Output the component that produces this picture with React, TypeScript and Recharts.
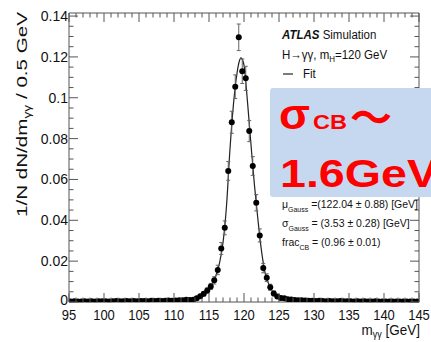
import React from "react"
import { ComposedChart, ErrorBar, Line, Scatter, XAxis, YAxis } from "recharts"

// m_yy bin centres (0.5 GeV bins)
const binCenters = [
  95.25, 95.75, 96.25, 96.75, 97.25, 97.75, 98.25, 98.75, 99.25, 99.75,
  100.25, 100.75, 101.25, 101.75, 102.25, 102.75, 103.25, 103.75, 104.25, 104.75,
  105.25, 105.75, 106.25, 106.75, 107.25, 107.75, 108.25, 108.75, 109.25, 109.75,
  110.25, 110.75, 111.25, 111.75, 112.25, 112.75, 113.25, 113.75, 114.25, 114.75,
  115.25, 115.75, 116.25, 116.75, 117.25, 117.75, 118.25, 118.75, 119.25, 119.75,
  120.25, 120.75, 121.25, 121.75, 122.25, 122.75, 123.25, 123.75, 124.25, 124.75,
  125.25, 125.75, 126.25, 126.75, 127.25, 127.75, 128.25, 128.75, 129.25, 129.75,
  130.25, 130.75, 131.25, 131.75, 132.25, 132.75, 133.25, 133.75, 134.25, 134.75,
  135.25, 135.75, 136.25, 136.75, 137.25, 137.75, 138.25, 138.75, 139.25, 139.75,
  140.25, 140.75, 141.25, 141.75, 142.25, 142.75, 143.25, 143.75, 144.25, 144.75,
]

// 1/N dN/dm
const binValues = [
  0.0003, 0.0004, 0.0003, 0.0003, 0.0004, 0.0003, 0.0004, 0.0003, 0.0004, 0.0004,
  0.0004, 0.0003, 0.0004, 0.0005, 0.0004, 0.0004, 0.0005, 0.0004, 0.0005, 0.0004,
  0.0005, 0.0005, 0.0004, 0.0006, 0.0005, 0.0006, 0.0005, 0.0006, 0.0007, 0.0006,
  0.0007, 0.0008, 0.0009, 0.0011, 0.001, 0.0011, 0.0018, 0.0028, 0.004, 0.0056,
  0.0076, 0.0106, 0.0157, 0.0262, 0.0363, 0.0642, 0.088, 0.1054, 0.1296, 0.113,
  0.1095, 0.0837, 0.0666, 0.0486, 0.0326, 0.0166, 0.0119, 0.0072, 0.0042, 0.0027,
  0.002, 0.0018, 0.0014, 0.0012, 0.001, 0.0008, 0.0009, 0.0007, 0.0006, 0.0006,
  0.0005, 0.0006, 0.0005, 0.0004, 0.0005, 0.0004, 0.0004, 0.0005, 0.0004, 0.0004,
  0.0004, 0.0003, 0.0004, 0.0003, 0.0004, 0.0003, 0.0003, 0.0004, 0.0003, 0.0003,
  0.0003, 0.0003, 0.0002, 0.0003, 0.0003, 0.0002, 0.0003, 0.0002, 0.0003, 0.0002,
]

const binErrors = [
  0.0003, 0.0003, 0.0003, 0.0003, 0.0003, 0.0003, 0.0003, 0.0003, 0.0003, 0.0003,
  0.0003, 0.0003, 0.0003, 0.0003, 0.0003, 0.0003, 0.0003, 0.0003, 0.0003, 0.0003,
  0.0003, 0.0003, 0.0003, 0.0003, 0.0003, 0.0003, 0.0003, 0.0003, 0.0004, 0.0004,
  0.0004, 0.0004, 0.0005, 0.0005, 0.0005, 0.0005, 0.0007, 0.0009, 0.0011, 0.0013,
  0.0015, 0.0018, 0.0023, 0.0029, 0.0034, 0.0046, 0.0054, 0.0058, 0.0065, 0.006,
  0.0059, 0.0052, 0.0046, 0.004, 0.0032, 0.0023, 0.0019, 0.0015, 0.0012, 0.0009,
  0.0008, 0.0007, 0.0006, 0.0006, 0.0005, 0.0005, 0.0005, 0.0004, 0.0004, 0.0004,
  0.0003, 0.0003, 0.0003, 0.0003, 0.0003, 0.0003, 0.0003, 0.0003, 0.0003, 0.0003,
  0.0003, 0.0003, 0.0003, 0.0003, 0.0003, 0.0003, 0.0003, 0.0003, 0.0003, 0.0003,
  0.0003, 0.0003, 0.0003, 0.0003, 0.0003, 0.0003, 0.0003, 0.0003, 0.0003, 0.0003,
]

// fit curve
const fitMass = [
  95, 100, 105, 108, 110, 111, 112, 112.5, 113, 113.5, 114, 114.5, 115, 115.5,
  116, 116.5, 117, 117.5, 118, 118.5, 119, 119.3, 119.55, 119.8, 120, 120.5,
  121, 121.5, 122, 122.5, 123, 123.5, 124, 124.5, 125, 126, 127, 128, 130, 135, 140, 145,
]
const fitValues = [
  0.0003, 0.0004, 0.0005, 0.0006, 0.0007, 0.0009, 0.0012, 0.0015, 0.0019, 0.0025, 0.0034, 0.0047, 0.0065, 0.0092,
  0.013, 0.019, 0.029, 0.047, 0.075, 0.097, 0.112, 0.1175, 0.1195, 0.1185, 0.116, 0.098,
  0.077, 0.057, 0.04, 0.025, 0.0145, 0.009, 0.0055, 0.0035, 0.0025, 0.0016, 0.0011, 0.0009, 0.0006, 0.0004, 0.0003, 0.0002,
]

const xMajorTicks = [95, 100, 105, 110, 115, 120, 125, 130, 135, 140, 145]
const xMinorTicks = [
  96, 97, 98, 99, 101, 102, 103, 104, 106, 107, 108, 109, 111, 112, 113, 114,
  116, 117, 118, 119, 121, 122, 123, 124, 126, 127, 128, 129, 131, 132, 133, 134,
  136, 137, 138, 139, 141, 142, 143, 144,
]
const yMajorTicks = [0, 0.02, 0.04, 0.06, 0.08, 0.1, 0.12, 0.14]
const yMajorLabels = ["0", "0.02", "0.04", "0.06", "0.08", "0.1", "0.12", "0.14"]
const yMinorTicks = [
  0.005, 0.01, 0.015, 0.025, 0.03, 0.035, 0.045, 0.05, 0.055, 0.065, 0.07, 0.075,
  0.085, 0.09, 0.095, 0.105, 0.11, 0.115, 0.125, 0.13, 0.135,
]

const points = binCenters.map((x, i) => ({ x, y: binValues[i], err: binErrors[i] }))
const fitPoints = fitMass.map((x, i) => ({ x, y: fitValues[i] }))

const FONT = "'Liberation Sans', Arial, Helvetica, sans-serif"
const FRAME = "#555"
const W = 431
const H = 342

function BottomTick(props: any) {
  const { x, y, payload } = props
  const major = xMajorTicks.includes(payload.value)
  return (
    <g>
      <line x1={x} x2={x} y1={y} y2={y - (major ? 9 : 4.5)} stroke={FRAME} />
      {major && (
        <text transform={`translate(${x},${y + 18}) scale(1,1.17)`} textAnchor="middle" fontSize={13} fill="#111" fontFamily={FONT}>
          {payload.value}
        </text>
      )}
    </g>
  )
}

function TopTick(props: any) {
  const { x, y, payload } = props
  const major = xMajorTicks.includes(payload.value)
  return <line x1={x} x2={x} y1={y} y2={y + (major ? 9 : 4.5)} stroke={FRAME} />
}

function LeftTick(props: any) {
  const { x, y, payload } = props
  const idx = yMajorTicks.indexOf(payload.value)
  const major = idx >= 0
  return (
    <g>
      <line x1={x} x2={x + (major ? 9 : 4.5)} y1={y} y2={y} stroke={FRAME} />
      {major && (
        <text x={x - 1} y={idx === 0 ? y - 2 : y} dy="0.36em" textAnchor="end" fontSize={14} fill="#111" fontFamily={FONT}>
          {yMajorLabels[idx]}
        </text>
      )}
    </g>
  )
}

function RightTick(props: any) {
  const { x, y, payload } = props
  const major = yMajorTicks.includes(payload.value)
  return <line x1={x} x2={x - (major ? 9 : 4.5)} y1={y} y2={y} stroke={FRAME} />
}

function Dot(props: any) {
  const { cx, cy } = props
  if (cx == null || cy == null) return null
  return <circle cx={cx} cy={cy} r={3} fill="#000" />
}

export default function App() {
  const xTicks = [...xMajorTicks, ...xMinorTicks].sort((a, b) => a - b)
  const yTicks = [...yMajorTicks, ...yMinorTicks].sort((a, b) => a - b)

  return (
    <div style={{ position: "absolute", left: 0, top: 0, width: W, height: H, background: "#fff" }}>
      <ComposedChart width={W} height={H} margin={{ top: 12, right: 11, bottom: 0, left: 0 }}>
        <XAxis
          xAxisId={0}
          dataKey="x"
          type="number"
          domain={[95, 145]}
          ticks={xTicks}
          interval={0}
          height={40}
          tickSize={0}
          tickMargin={0}
          tickLine={false}
          tick={<BottomTick />}
          axisLine={{ stroke: FRAME }}
          allowDataOverflow
        />
        <XAxis
          xAxisId="top"
          orientation="top"
          dataKey="x"
          type="number"
          domain={[95, 145]}
          ticks={xTicks}
          interval={0}
          height={1}
          tickSize={0}
          tickMargin={0}
          tickLine={false}
          tick={<TopTick />}
          axisLine={{ stroke: FRAME }}
          allowDataOverflow
        />
        <YAxis
          yAxisId={0}
          type="number"
          domain={[0, 0.1415]}
          ticks={yTicks}
          interval={0}
          width={69}
          tickSize={0}
          tickMargin={0}
          tickLine={false}
          tick={<LeftTick />}
          axisLine={{ stroke: FRAME }}
          allowDataOverflow
        />
        <YAxis
          yAxisId="right"
          orientation="right"
          type="number"
          domain={[0, 0.1415]}
          ticks={yTicks}
          interval={0}
          width={1}
          tickSize={0}
          tickMargin={0}
          tickLine={false}
          tick={<RightTick />}
          axisLine={{ stroke: FRAME }}
          allowDataOverflow
        />
        <Line
          data={fitPoints}
          dataKey="y"
          type="monotone"
          dot={false}
          activeDot={false}
          stroke="#222"
          strokeWidth={1.2}
          isAnimationActive={false}
        />
        <Scatter data={points} dataKey="y" shape={<Dot />} isAnimationActive={false}>
          <ErrorBar dataKey="err" direction="y" width={2} stroke="#666" strokeWidth={1} isAnimationActive={false} />
        </Scatter>
      </ComposedChart>

      <svg width={W} height={H} style={{ position: "absolute", left: 0, top: 0, pointerEvents: "none" }} fontFamily={FONT}>
        {/* axis titles */}
        <text transform="translate(27,12) rotate(-90)" textAnchor="end" fontSize={15} fill="#111" textLength={205} lengthAdjust="spacingAndGlyphs">
          1/N dN/dm<tspan fontSize={10} dy={4}>γγ</tspan><tspan dy={-4}> / 0.5 GeV</tspan>
        </text>
        <text transform="translate(420,335) scale(1,1.15)" textAnchor="end" fontSize={13.5} fill="#111">
          m<tspan fontSize={9} dy={3}>γγ</tspan><tspan dy={-3}> [GeV]</tspan>
        </text>

        {/* legend */}
        <g fill="#111" fontSize={11.5}>
          <text transform="translate(282,39) scale(1,1.1)">
            <tspan fontWeight="bold" fontStyle="italic">ATLAS</tspan> Simulation
          </text>
          <text transform="translate(282,59) scale(1,1.1)">
            H→γγ, m<tspan fontSize={8} dy={3}>H</tspan><tspan dy={-3}>=120 GeV</tspan>
          </text>
          <line x1={283} x2={293} y1={74} y2={74} stroke="#222" strokeWidth={1.2} />
          <text transform="translate(303,78) scale(1,1.1)">Fit</text>
        </g>

        {/* fit parameters */}
        <g fill="#111" fontSize={10.5}>
          <text transform="translate(282,208) scale(1,1.12)">
            μ<tspan fontSize={7} dy={4}>Gauss</tspan><tspan dy={-4}> =(122.04 ± 0.88) [GeV]</tspan>
          </text>
          <text transform="translate(282,227) scale(1,1.12)">
            σ<tspan fontSize={7} dy={4}>Gauss</tspan><tspan dy={-4}> = (3.53 ± 0.28) [GeV]</tspan>
          </text>
          <text transform="translate(282,246) scale(1,1.12)">
            frac<tspan fontSize={7} dy={4}>CB</tspan><tspan dy={-4}> = (0.96 ± 0.01)</tspan>
          </text>
        </g>

        {/* highlight box */}
        <rect x={270} y={88} width={170} height={109} rx={3} fill="#c6d8f0" />
        <g fill="#ff0000" fontWeight="bold">
          <text x={279} y={129} fontSize={42} textLength={31} lengthAdjust="spacingAndGlyphs">σ</text>
          <text x={313} y={129} fontSize={20} textLength={34} lengthAdjust="spacingAndGlyphs">CB</text>
          <text x={350} y={133} fontSize={42} fontFamily="'Noto Sans CJK JP', sans-serif">～</text>
          <text x={280} y={187} fontSize={38} textLength={158} lengthAdjust="spacingAndGlyphs">1.6GeV</text>
        </g>
      </svg>
    </div>
  )
}
